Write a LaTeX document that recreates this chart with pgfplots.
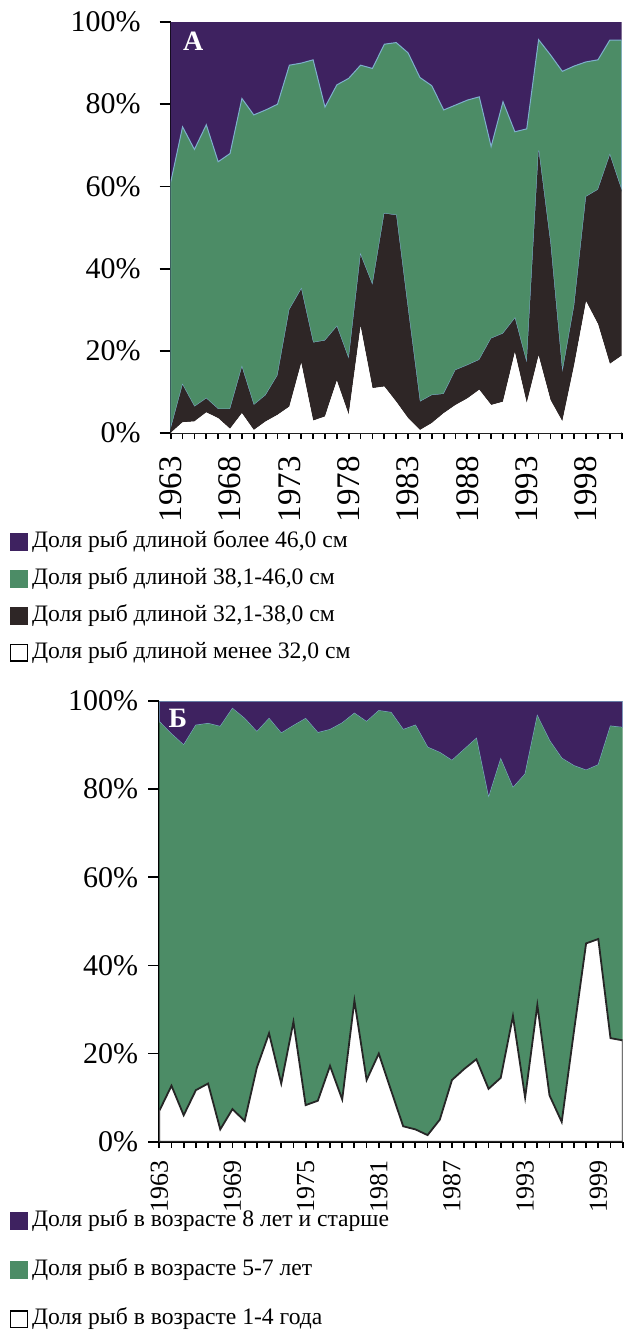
\documentclass[border=0pt]{standalone}
\usepackage{pgfplots}
\usepackage{pgfplotstable}
\pgfplotsset{compat=1.18}
\usepackage{fontspec}
\setmainfont{Liberation Serif}

\definecolor{purp}{RGB}{62,34,96}
\definecolor{grn}{RGB}{76,140,102}
\definecolor{drk}{RGB}{46,38,38}
\definecolor{edge}{RGB}{125,175,205}

\pgfplotstableread{
year w d g p
1963 0 1 60 39
1964 2.6 9.1 62.8 25.5
1965 2.8 3.6 62.6 31
1966 5 3.4 66.6 25
1967 3.6 2.2 60.2 34
1968 1 4.8 62.2 32
1969 4.8 11.2 65.4 18.6
1970 0.7 6.1 70.6 22.6
1971 2.8 6.4 69.4 21.4
1972 4.4 9.6 66 20
1973 6.4 23.6 59.5 10.5
1974 17 18 55 10
1975 3 19 68.8 9.2
1976 4 18.5 56.8 20.7
1977 12.7 13.2 58.8 15.3
1978 4.4 13.6 68.3 13.7
1979 25.9 17.4 46.2 10.5
1980 10.9 25.1 52.7 11.3
1981 11.3 42.1 41.2 5.4
1982 7.6 45.4 42 5
1983 3.6 26.4 62.5 7.5
1984 0.7 6.9 78.9 13.5
1985 2.4 6.8 75.3 15.5
1986 4.8 4.7 69.1 21.4
1987 6.8 8.5 64.5 20.2
1988 8.4 8.1 64.5 19
1989 10.5 7.3 64 18.2
1990 6.8 16.2 46.7 30.3
1991 7.6 16.6 56.4 19.4
1992 19.6 8.3 45.4 26.7
1993 7.2 9.8 57 26
1994 18.8 49.9 27 4.3
1995 8 38 46 8
1996 2.8 11.9 73.3 12
1997 16.5 14.5 58.3 10.7
1998 32 25.5 32.8 9.7
1999 26.5 32.7 31.6 9.2
2000 16.8 50.8 28 4.4
2001 18.8 40.2 36.6 4.4
}\dataA

\pgfplotstableread{
year w g p
1963 7 88.3 4.7
1964 12.7 79.8 7.5
1965 6 84 10
1966 11.7 82.8 5.5
1967 13.2 81.7 5.1
1968 2.8 91.4 5.8
1969 7.4 90.9 1.7
1970 4.7 91.3 4
1971 16.8 76.2 7
1972 24.6 71.4 4
1973 13.2 79.5 7.3
1974 27.2 67.2 5.6
1975 8.3 87.7 4
1976 9.3 83.5 7.2
1977 17.2 76.3 6.5
1978 9.6 85.4 5
1979 32 65.2 2.8
1980 14 81.3 4.7
1981 20 77.8 2.2
1982 11.7 85.7 2.6
1983 3.5 90 6.5
1984 2.8 91.7 5.5
1985 1.5 88 10.5
1986 5 83.3 11.7
1987 14 72.5 13.5
1988 16.5 72.5 11
1989 18.7 72.8 8.5
1990 12 66 22
1991 14.5 72.3 13.2
1992 28.5 51.8 19.7
1993 10 73.4 16.6
1994 31 65.6 3.4
1995 10.5 80.5 9
1996 4.5 82.5 13
1997 25 60.3 14.7
1998 45 39.3 15.7
1999 46 39.5 14.5
2000 23.5 70.8 5.7
2001 23 71 6
}\dataB

\pgfplotsset{
  base/.style={
    scale only axis,
    stack plots=y,
    xmin=1963, xmax=2001, ymin=0, ymax=100,
    axis x line*=bottom, axis y line*=left,
    axis line style={black, line width=1pt, -},
    ytick={0,20,40,60,80,100},
    yticklabels={0\%,20\%,40\%,60\%,80\%,100\%},
    minor xtick={1963,1964,...,2001},
    tick align=outside,
    major tick length=5.5pt, minor tick length=3pt,
    every tick/.style={black, line width=0.9pt},
    major x tick style={draw=none},
    yticklabel style={font=\fontsize{15}{15}\selectfont},
    reverse legend,
    legend cell align=left,
    legend style={draw=none, fill=none, inner sep=0pt, outer sep=0pt,
      font=\fontsize{11.8}{13}\selectfont,
      nodes={inner sep=2pt, text height=8pt, text depth=2.5pt},
      cells={anchor=west}},
    legend image code/.code={\fill[##1, draw=none] (0pt,-4.5pt) rectangle (9pt,4.5pt);},
  },
}

\begin{document}
\begin{tikzpicture}
\useasboundingbox (0,0) rectangle (312pt,-670.5pt);

\begin{axis}[base, name=chartA,
  at={(85.35pt,-216.5pt)}, anchor=south west,
  width=225.5pt, height=205.5pt,
  xtick={1963,1968,1973,1978,1983,1988,1993,1998},
  xticklabels={1963,1968,1973,1978,1983,1988,1993,1998},
  xticklabel style={font=\fontsize{16.5}{16.5}\selectfont, rotate=90, anchor=east},
  xticklabel shift=2.5pt,
  yticklabel style={xshift=-6pt},
  legend style={at={(-0.3563,-0.2287)}, anchor=north west, row sep=4pt},
]
\addplot[fill=white, draw=none, mark=none,
  legend image code/.code={\draw[fill=white, draw=black, line width=0.6pt] (0.3pt,-4.2pt) rectangle (8.7pt,4.2pt);}]
  table[x=year, y=w]{\dataA} \closedcycle;
\addlegendentry{Доля рыб длиной менее 32,0 см}
\addplot[fill=drk, draw=none, mark=none] table[x=year, y=d]{\dataA} \closedcycle;
\addlegendentry{Доля рыб длиной 32,1-38,0 см}
\addplot[fill=grn, draw=edge, line width=0.5pt, mark=none] table[x=year, y=g]{\dataA} \closedcycle;
\addlegendentry{Доля рыб длиной 38,1-46,0 см}
\addplot[fill=purp, draw=none, mark=none] table[x=year, y=p]{\dataA} \closedcycle;
\addlegendentry{Доля рыб длиной более 46,0 см}
\end{axis}
\node[anchor=north west, inner sep=0pt, text=white, font=\fontsize{14}{14}\selectfont\bfseries]
  at ([xshift=6pt, yshift=-5pt]chartA.north west) {А};

\begin{axis}[base, name=chartB,
  at={(79.65pt,-570.85pt)}, anchor=south west,
  width=231.7pt, height=220.35pt,
  xtick={1963,1969,1975,1981,1987,1993,1999},
  xticklabels={1963,1969,1975,1981,1987,1993,1999},
  xticklabel style={font=\fontsize{13}{13}\selectfont, rotate=90, anchor=east},
  xticklabel shift=0.5pt,
  yticklabel style={xshift=-1.5pt},
  legend style={at={(-0.322,-0.148)}, anchor=north west, row sep=10pt},
]
\addplot[fill=white, draw=black!85, line width=0.9pt, mark=none,
  legend image code/.code={\draw[fill=white, draw=black, line width=0.6pt] (0.3pt,-4.2pt) rectangle (8.7pt,4.2pt);}]
  table[x=year, y=w]{\dataB} \closedcycle;
\addlegendentry{Доля рыб в возрасте 1-4 года}
\addplot[fill=grn, draw=none, mark=none] table[x=year, y=g]{\dataB} \closedcycle;
\addlegendentry{Доля рыб в возрасте 5-7 лет}
\addplot[fill=purp, draw=edge, line width=0.5pt, mark=none] table[x=year, y=p]{\dataB} \closedcycle;
\addlegendentry{Доля рыб в возрасте 8 лет и старше}
\end{axis}
\node[anchor=north west, inner sep=0pt, text=white, font=\fontsize{14}{14}\selectfont\bfseries]
  at ([xshift=4.5pt, yshift=-4pt]chartB.north west) {Б};
\end{tikzpicture}
\end{document}
